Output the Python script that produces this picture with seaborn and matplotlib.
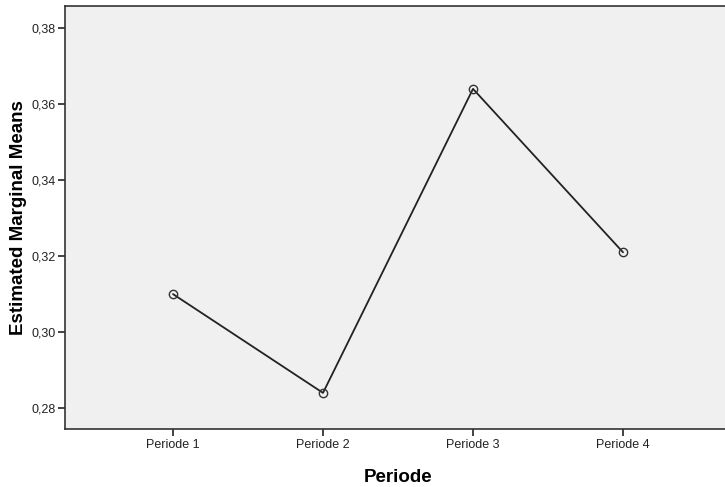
import pandas as pd
import seaborn as sns
import matplotlib.pyplot as plt
from matplotlib.ticker import FuncFormatter

periods = ["Periode 1", "Periode 2", "Periode 3", "Periode 4"]
means = [0.310, 0.284, 0.364, 0.321]
y_ticks = [0.28, 0.30, 0.32, 0.34, 0.36, 0.38]

data = pd.DataFrame({"Periode": periods, "mean": means})
data["pos"] = range(len(periods))

sns.set_style("white")
plt.rcParams["font.family"] = ["Liberation Sans", "DejaVu Sans"]

fig = plt.figure(figsize=(7.25, 4.87), dpi=100)
# plot area runs slightly past the right edge of the image, as in the reference
ax = fig.add_axes([65 / 725, 58 / 487, 666 / 725, 423 / 487])
ax.set_facecolor("#f0f0f0")

sns.lineplot(data=data, x="pos", y="mean", ax=ax, color="#222222",
             linewidth=1.3, marker="o", markersize=6,
             markerfacecolor="none", markeredgecolor="#333333",
             markeredgewidth=1.0)

ax.set_xlim(-0.72, 3.72)
ax.set_ylim(0.2745, 0.3858)
ax.set_xticks(data["pos"])
ax.set_xticklabels(periods)
ax.set_yticks(y_ticks)
ax.yaxis.set_major_formatter(FuncFormatter(lambda v, p: f"{v:.2f}".replace(".", ",")))

ax.tick_params(axis="both", direction="out", length=5, width=1.2,
               colors="#222222", labelsize=9, left=True, bottom=True, pad=2)
for s in ax.spines.values():
    s.set_color("#333333")
    s.set_linewidth(1.2)

ax.set_xlabel("Periode", fontsize=13.5, fontweight="bold", labelpad=13, color="black")
ax.set_ylabel("Estimated Marginal Means", fontsize=13.5, fontweight="bold", labelpad=3, color="black")

fig.savefig("out.png", dpi=100)
